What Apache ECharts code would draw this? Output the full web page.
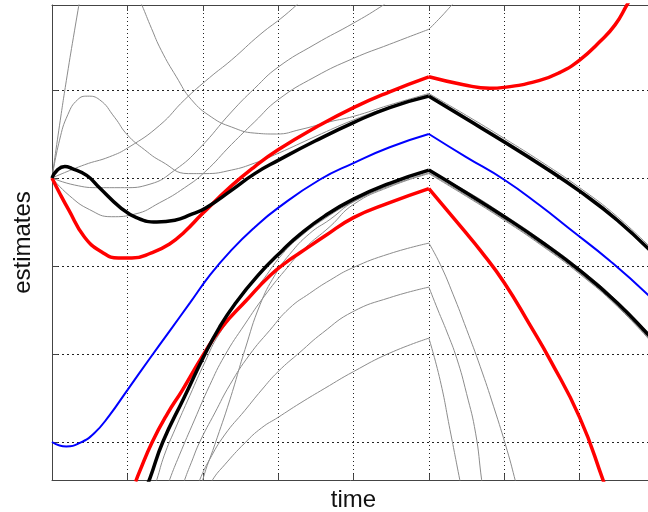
<!DOCTYPE html>
<html>
<head>
<meta charset="utf-8">
<script src="https://cdn.jsdelivr.net/npm/echarts@6/dist/echarts.min.js"></script>
<style>
  html, body { margin: 0; padding: 0; background: #fff; }
  #chart { width: 648px; height: 512px; }
</style>
</head>
<body>
<div id="chart"></div>
<script>
// estimates over time, each curve is a list of [time, estimate]
const timeTicks = [0, 1, 2, 3, 4, 5, 6, 7, 8]
const estimateTicks = [0, 1, 2, 3, 4]

const blueEstimate = [[0,0],[0.10,-0.04],[0.19,-0.05],[0.37,-0.01],[0.56,0.10],[0.76,0.30],[1.0,0.59],[1.29,0.94],[1.56,1.26],[1.83,1.58],[2.09,1.89],[2.38,2.18],[2.69,2.44],[3.0,2.66],[3.55,2.98],[4.0,3.17],[4.48,3.35],[5.0,3.50],
  [5.49,3.24],[6.0,2.98],[6.47,2.69],[6.87,2.42],[7.40,2.06],[7.91,1.67],[8.0,1.57]]

const blackUpper = [[0,3.0],[0.07,3.09],[0.17,3.13],[0.26,3.11],[0.46,3.03],[0.63,2.89],[0.90,2.67],[1.12,2.55],[1.39,2.50],[1.63,2.52],[1.83,2.58],[2.04,2.66],[2.38,2.86],[2.69,3.05],[3.0,3.20],[3.49,3.42],[4.0,3.63],[4.48,3.80],[5.0,3.93],
  [5.5,3.67],[6.0,3.41],[6.5,3.14],[7.0,2.85],[7.5,2.52],[8.0,2.12]]

const blackLower = [[1.23,-0.55],[1.30,-0.41],[1.47,0],[1.75,0.50],[2.03,1.0],[2.22,1.30],[2.42,1.56],[2.73,1.89],[3.06,2.18],[3.29,2.36],[3.62,2.57],[4.0,2.76],[4.48,2.94],[5.0,3.09],
  [5.5,2.83],[6.0,2.56],[6.5,2.27],[7.0,1.95],[7.5,1.58],[7.91,1.22],[8.0,1.13]]

const redUpper = [[0,3.0],[0.10,2.83],[0.22,2.64],[0.43,2.33],[0.66,2.16],[0.88,2.09],[1.06,2.09],[1.32,2.15],[1.56,2.25],[1.76,2.39],[1.99,2.59],[2.38,2.91],[2.69,3.13],[3.0,3.32],[3.49,3.57],[4.0,3.80],[4.48,3.98],[5.0,4.15],
  [5.46,4.06],[5.81,4.02],[6.0,4.03],[6.47,4.11],[6.74,4.20],[7.0,4.34],[7.27,4.55],[7.47,4.74],[7.63,4.97],[7.80,5.22]]

const redLower = [[1.11,-0.45],[1.16,-0.34],[1.33,0],[1.53,0.32],[1.73,0.59],[2.0,0.98],[2.25,1.30],[2.58,1.61],[2.89,1.89],[3.15,2.07],[3.29,2.15],[3.62,2.34],[4.0,2.55],[4.48,2.72],[5.0,2.88],
  [5.46,2.41],[5.68,2.18],[6.0,1.81],[6.34,1.33],[6.61,0.93],[7.0,0.28],[7.31,-0.43],[7.36,-0.57]]

// thin grey runs
const greySteep = [[0,3],[0.1,3.6],[0.2,4.16],[0.3,4.68],[0.4,5.18]]
const greyFromTop = [[1.10,5.14],[1.19,4.97],[1.32,4.70],[1.45,4.45],[1.65,4.15],[1.85,3.89],[2.12,3.69],[2.38,3.58],[2.69,3.51],[2.98,3.50],[3.29,3.55],[3.69,3.64],[4.0,3.70],[4.48,3.83],[5.0,3.96],
  [5.5,3.71],[6.0,3.45],[6.5,3.18],[7.0,2.89],[7.5,2.56],[8.0,2.16]]
const greyHump = [[0,3],[0.10,3.43],[0.21,3.72],[0.34,3.89],[0.47,3.93],[0.63,3.89],[0.83,3.69],[1.0,3.49],[1.23,3.32],[1.45,3.19],[1.81,3.05],[2.03,3.05],[2.38,3.09],[2.69,3.17],[3.0,3.28],[3.49,3.47],[4.0,3.66],[4.48,3.81],[5.0,3.95],
  [5.5,3.69],[6.0,3.43],[6.5,3.16],[7.0,2.87],[7.5,2.54],[8.0,2.14]]
const greyRiseA = [[0,3],[0.43,3.15],[0.76,3.24],[1.02,3.35],[1.43,3.60],[1.76,3.89],[2.09,4.14],[2.38,4.34],[2.76,4.63],[3.09,4.85],[3.35,5.05]]
const greyRiseB = [[0,3],[0.30,2.92],[0.63,2.89],[0.96,2.89],[1.30,2.93],[1.63,3.09],[1.96,3.34],[2.38,3.75],[2.69,4.02],[3.0,4.26],[3.49,4.52],[4.0,4.76],[4.35,4.94],[4.55,5.06]]
const greyRiseC = [[0,3],[0.23,2.80],[0.50,2.64],[0.79,2.56],[1.10,2.59],[1.43,2.72],[1.76,2.89],[2.03,3.07],[2.38,3.38],[2.69,3.64],[3.0,3.89],[3.49,4.15],[4.0,4.36],[4.48,4.52],[5.0,4.69],
  [5.16,4.83],[5.31,4.97],[5.44,5.08]]
const greyLowA = [[1.30,-0.66],[1.39,-0.43],[1.49,-0.15],[1.63,0.14],[1.83,0.53],[2.03,0.91],[2.22,1.23],[2.49,1.53],[2.76,1.80],[3.06,2.14],[3.29,2.33],[3.62,2.54],[4.0,2.73],[4.48,2.91],[5.0,3.06],
  [5.5,2.80],[6.0,2.53],[6.5,2.24],[7.0,1.92],[7.5,1.55],[8.0,1.10]]
const greyLowB = [[1.47,-0.66],[1.56,-0.43],[1.69,-0.15],[1.89,0.25],[2.09,0.64],[2.29,0.98],[2.56,1.34],[2.82,1.66],[3.09,1.95],[3.35,2.20],[3.69,2.45],[4.0,2.70],[4.48,2.90],[5.0,3.05],
  [5.5,2.79],[6.0,2.52],[6.5,2.23],[7.0,1.91],[7.5,1.54],[8.0,1.09]]
const greyLowC = [[1.95,-0.66],[2.0,-0.43],[2.16,-0.03],[2.36,0.48],[2.56,1.05],[2.76,1.56],[2.96,1.90],[3.15,2.13],[3.42,2.37],[3.69,2.53],[4.0,2.73],[4.48,2.92],[5.0,3.08],
  [5.5,2.85],[6.0,2.58],[6.5,2.29],[7.0,1.97],[7.5,1.60],[8.0,1.15]]
const greyKinkA = [[1.67,-0.66],[1.76,-0.43],[1.85,-0.23],[1.96,0],[2.16,0.33],[2.36,0.65],[2.62,0.99],[2.89,1.27],[3.15,1.52],[3.42,1.69],[3.69,1.84],[3.99,1.98],[4.48,2.14],[5.0,2.26],
  [5.15,2.02],[5.32,1.68],[5.50,1.28],[5.68,0.86],[5.86,0.40],[6.04,-0.10],[6.15,-0.45],[6.20,-0.62]]
const greyKinkB = [[1.89,-0.60],[1.96,-0.43],[2.09,-0.20],[2.29,0.08],[2.56,0.36],[2.78,0.59],[3.0,0.80],[3.29,1.02],[3.59,1.24],[3.99,1.48],[4.48,1.64],[5.0,1.76],
  [5.12,1.50],[5.24,1.25],[5.37,0.95],[5.50,0.55],[5.62,0.10],[5.70,-0.43],[5.73,-0.6]]
const greyKinkC = [[2.07,-0.55],[2.13,-0.43],[2.29,-0.26],[2.56,-0.01],[2.78,0.16],[3.0,0.28],[3.29,0.44],[3.62,0.61],[4.0,0.80],[4.48,1.01],[5.0,1.18],
  [5.15,0.70],[5.28,0.14],[5.41,-0.43],[5.45,-0.6]]

const greyRuns = [greySteep, greyFromTop, greyHump, greyRiseA, greyRiseB, greyRiseC,
  greyLowA, greyLowB, greyLowC, greyKinkA, greyKinkB, greyKinkC]

// the input switches at t = 5, so every curve has a corner there
const kink = 5
const splitAtKink = (pts) => {
  const before = pts.filter(p => p[0] <= kink)
  const after = pts.filter(p => p[0] >= kink)
  return [before, after].filter(s => s.length > 1)
}

const series = []
const addCurve = (pts, color, width) => {
  splitAtKink(pts).forEach(seg => {
    series.push({
      type: 'line',
      data: seg,
      smooth: 0.5,
      symbol: 'none',
      silent: true,
      lineStyle: { color: color, width: width }
    })
  })
}

greyRuns.forEach(g => addCurve(g, '#8c8c8c', 1))
addCurve(redUpper, '#ff0000', 3.5)
addCurve(redLower, '#ff0000', 3.5)
addCurve(blackUpper, '#000000', 3.5)
addCurve(blackLower, '#000000', 3.5)
addCurve(blueEstimate, '#0000ff', 2)

// box frame: keep the axis lines on the plot edges, not on zero
const frame = { show: true, onZero: false, lineStyle: { color: '#444', width: 1 } }
const innerTick = { show: true, inside: true, length: 6, lineStyle: { color: '#444' } }

const chart = echarts.init(document.getElementById('chart'), null, { renderer: 'canvas' })
chart.setOption({
  animation: false,
  backgroundColor: '#fff',
  grid: { left: 52, top: 5, right: -7, bottom: 32, outerBoundsMode: 'none', containLabel: false },
  xAxis: [{
    type: 'value',
    min: timeTicks[0],
    max: timeTicks[timeTicks.length - 1],
    interval: 1,
    name: 'time',
    nameLocation: 'middle',
    nameGap: 8,
    nameTextStyle: { fontSize: 24, fontFamily: 'Liberation Sans', color: '#111' },
    axisLine: frame,
    axisTick: innerTick,
    axisLabel: { show: false },
    splitLine: { show: true, showMinLine: false, showMaxLine: false, lineStyle: { type: [1, 3], color: '#222', width: 1 } }
  }, {
    type: 'value',
    position: 'top',
    min: timeTicks[0],
    max: timeTicks[timeTicks.length - 1],
    interval: 1,
    axisLine: frame,
    axisTick: innerTick,
    axisLabel: { show: false },
    splitLine: { show: false }
  }],
  yAxis: {
    type: 'value',
    min: -0.432,
    max: 4.966,
    name: 'estimates',
    nameLocation: 'middle',
    nameGap: 17,
    nameTextStyle: { fontSize: 24, fontFamily: 'Liberation Sans', color: '#111' },
    axisLine: frame,
    axisTick: { show: true, inside: true, length: 6, customValues: estimateTicks, lineStyle: { color: '#444' } },
    axisLabel: { show: false, customValues: estimateTicks },
    splitLine: { show: true, lineStyle: { type: [2, 3], color: '#222', width: 1 } }
  },
  series: series
})
</script>
</body>
</html>
